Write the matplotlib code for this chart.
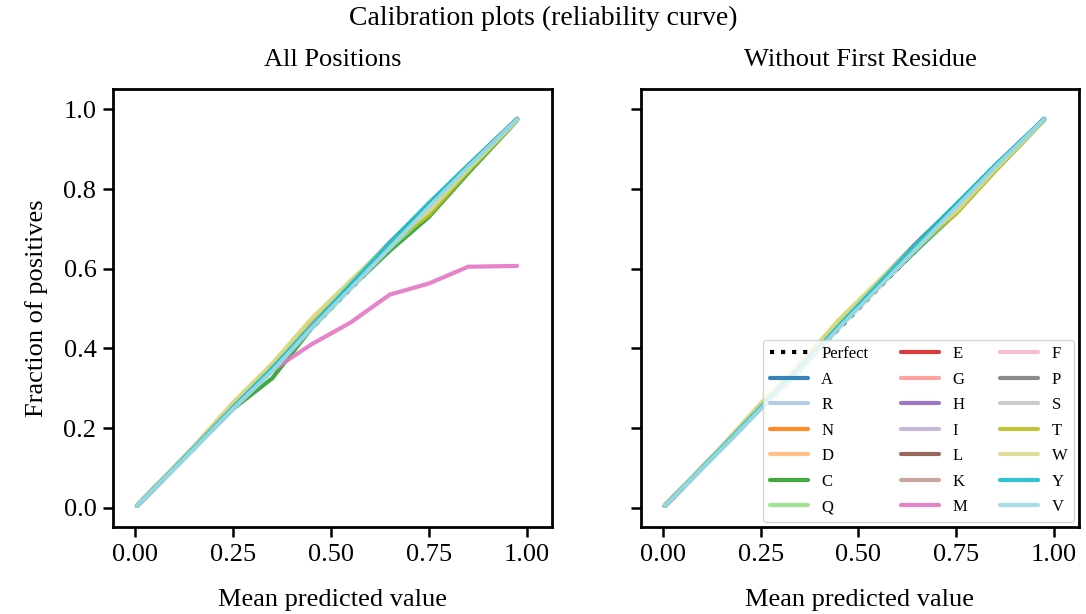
import matplotlib
matplotlib.use("Agg")
import matplotlib.pyplot as plt

plt.rcParams['font.family'] = ['Liberation Serif', 'DejaVu Serif']

# mittlere vorhergesagte Werte pro Bin (gleich fuer alle Kurven)
x_bins = [0.005, 0.15, 0.25, 0.35, 0.45, 0.55, 0.65, 0.75, 0.85, 0.975]

letters = ['A', 'R', 'N', 'D', 'C', 'Q', 'E', 'G', 'H', 'I',
           'L', 'K', 'M', 'F', 'P', 'S', 'T', 'W', 'Y', 'V']

# Panel 1: alle Positionen
all_pos = {
    'A': [0.005, 0.150, 0.255, 0.350, 0.460, 0.560, 0.660, 0.755, 0.855, 0.975],
    'R': [0.005, 0.148, 0.250, 0.345, 0.455, 0.555, 0.655, 0.750, 0.850, 0.974],
    'N': [0.005, 0.152, 0.256, 0.352, 0.462, 0.562, 0.662, 0.758, 0.858, 0.976],
    'D': [0.005, 0.151, 0.254, 0.351, 0.461, 0.560, 0.658, 0.752, 0.852, 0.975],
    'C': [0.005, 0.149, 0.248, 0.325, 0.450, 0.552, 0.645, 0.730, 0.840, 0.972],
    'Q': [0.005, 0.150, 0.252, 0.348, 0.458, 0.556, 0.652, 0.740, 0.848, 0.974],
    'E': [0.005, 0.151, 0.256, 0.353, 0.463, 0.563, 0.663, 0.757, 0.857, 0.976],
    'G': [0.005, 0.150, 0.253, 0.349, 0.459, 0.558, 0.657, 0.753, 0.853, 0.975],
    'H': [0.005, 0.149, 0.251, 0.347, 0.456, 0.556, 0.656, 0.752, 0.852, 0.975],
    'I': [0.005, 0.150, 0.252, 0.348, 0.457, 0.557, 0.656, 0.751, 0.851, 0.974],
    'L': [0.005, 0.152, 0.257, 0.354, 0.464, 0.565, 0.666, 0.760, 0.858, 0.976],
    'K': [0.005, 0.150, 0.254, 0.350, 0.460, 0.559, 0.658, 0.754, 0.854, 0.975],
    'M': [0.005, 0.150, 0.252, 0.345, 0.410, 0.465, 0.535, 0.563, 0.605, 0.607],
    'F': [0.005, 0.151, 0.255, 0.351, 0.461, 0.561, 0.660, 0.756, 0.855, 0.975],
    'P': [0.005, 0.150, 0.253, 0.349, 0.458, 0.558, 0.657, 0.752, 0.852, 0.975],
    'S': [0.005, 0.149, 0.252, 0.348, 0.457, 0.557, 0.655, 0.750, 0.850, 0.974],
    'T': [0.005, 0.153, 0.262, 0.360, 0.472, 0.568, 0.662, 0.735, 0.845, 0.973],
    'W': [0.005, 0.154, 0.264, 0.362, 0.475, 0.570, 0.664, 0.745, 0.850, 0.974],
    'Y': [0.005, 0.150, 0.252, 0.350, 0.455, 0.560, 0.665, 0.765, 0.860, 0.976],
    'V': [0.005, 0.147, 0.248, 0.343, 0.450, 0.550, 0.652, 0.755, 0.855, 0.975],
}

# Panel 2: ohne erstes Residuum
no_first = {
    'A': [0.005, 0.150, 0.253, 0.352, 0.462, 0.560, 0.660, 0.758, 0.858, 0.975],
    'R': [0.005, 0.148, 0.249, 0.346, 0.454, 0.552, 0.652, 0.750, 0.850, 0.974],
    'N': [0.005, 0.151, 0.255, 0.353, 0.463, 0.562, 0.662, 0.756, 0.856, 0.975],
    'D': [0.005, 0.151, 0.254, 0.352, 0.462, 0.561, 0.658, 0.752, 0.852, 0.975],
    'C': [0.005, 0.149, 0.250, 0.345, 0.455, 0.553, 0.648, 0.740, 0.846, 0.973],
    'Q': [0.005, 0.150, 0.252, 0.348, 0.458, 0.556, 0.652, 0.742, 0.848, 0.974],
    'E': [0.005, 0.151, 0.255, 0.353, 0.463, 0.563, 0.662, 0.757, 0.857, 0.976],
    'G': [0.005, 0.150, 0.253, 0.350, 0.459, 0.558, 0.657, 0.753, 0.853, 0.975],
    'H': [0.005, 0.149, 0.251, 0.348, 0.456, 0.556, 0.655, 0.751, 0.851, 0.975],
    'I': [0.005, 0.150, 0.252, 0.348, 0.457, 0.556, 0.655, 0.750, 0.850, 0.974],
    'L': [0.005, 0.152, 0.256, 0.355, 0.465, 0.566, 0.666, 0.760, 0.858, 0.976],
    'K': [0.005, 0.150, 0.253, 0.350, 0.460, 0.559, 0.658, 0.754, 0.854, 0.975],
    'M': [0.005, 0.149, 0.251, 0.347, 0.456, 0.555, 0.654, 0.750, 0.850, 0.974],
    'F': [0.005, 0.151, 0.254, 0.351, 0.461, 0.560, 0.659, 0.755, 0.855, 0.975],
    'P': [0.005, 0.150, 0.253, 0.349, 0.458, 0.558, 0.657, 0.752, 0.852, 0.975],
    'S': [0.005, 0.149, 0.252, 0.348, 0.457, 0.557, 0.655, 0.750, 0.850, 0.974],
    'T': [0.005, 0.153, 0.260, 0.358, 0.470, 0.566, 0.660, 0.738, 0.846, 0.973],
    'W': [0.005, 0.154, 0.262, 0.360, 0.472, 0.568, 0.662, 0.744, 0.850, 0.974],
    'Y': [0.005, 0.150, 0.252, 0.350, 0.456, 0.560, 0.664, 0.762, 0.860, 0.976],
    'V': [0.005, 0.147, 0.248, 0.344, 0.451, 0.551, 0.652, 0.754, 0.855, 0.975],
}

# perfekte Kalibrierung (liegt unter den Kurven)
perfect = [0.005, 0.975]
colors = plt.get_cmap('tab20').colors

fig = plt.figure(figsize=(10.86, 6.14), dpi=100)
ax1 = fig.add_axes([0.1041, 0.1417, 0.4042, 0.7134])
ax2 = fig.add_axes([0.5902, 0.1417, 0.4033, 0.7134], sharey=ax1)

for ax, data, title in [(ax1, all_pos, 'All Positions'),
                        (ax2, no_first, 'Without First Residue')]:
    ax.plot(perfect, perfect, 'k:', lw=3, label='Perfect')
    for i, k in enumerate(letters):
        ax.plot(x_bins, data[k], color=colors[i], lw=3, alpha=0.9,
                solid_capstyle='round', label=k)
    ax.set_xlim(-0.056, 1.064)
    ax.set_ylim(-0.048, 1.051)
    ax.set_xticks([0, 0.25, 0.5, 0.75, 1.0])
    ax.set_yticks([0, 0.2, 0.4, 0.6, 0.8, 1.0])
    ax.set_title(title, fontsize=19, pad=16.5)
    ax.set_xlabel('Mean predicted value', fontsize=19, labelpad=17)
    ax.tick_params(labelsize=19, length=7, width=1.8, pad=5)
    for s in ax.spines.values():
        s.set_linewidth(2)

ax1.set_ylabel('Fraction of positives', fontsize=19, labelpad=11)
ax2.tick_params(labelleft=False)
ax2.legend(loc='lower right', ncol=3, fontsize=12, handlelength=2.3,
           handletextpad=0.8, labelspacing=0.57, borderaxespad=0.3,
           columnspacing=1.95)

fig.suptitle('Calibration plots (reliability curve)', fontsize=20,
             y=0.97, va='center')
fig.savefig('out.png', dpi=100)
